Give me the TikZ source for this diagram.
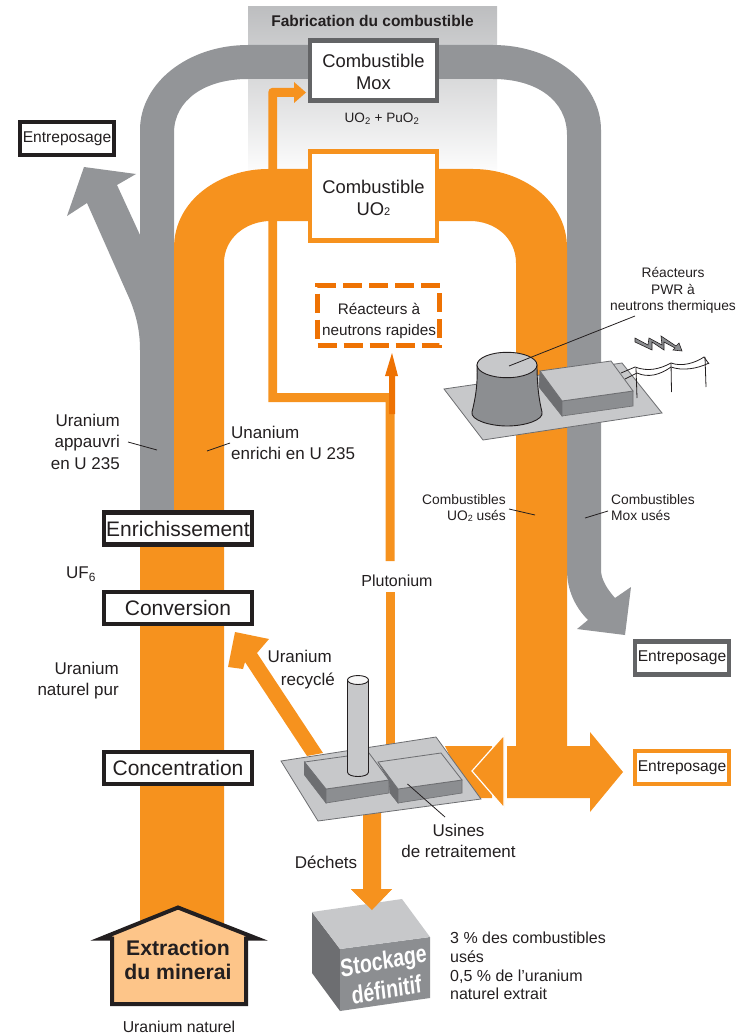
\documentclass[tikz,border=0pt]{standalone}
\usepackage{fontspec}
\setmainfont{Liberation Sans}
\definecolor{orng}{HTML}{F6921E}
\definecolor{dorng}{HTML}{EE7203}
\definecolor{band}{HTML}{939598}
\definecolor{dgray}{HTML}{636466}
\definecolor{lgray}{HTML}{C7C8CA}
\definecolor{mgray}{HTML}{8C8E91}
\definecolor{sgray}{HTML}{6D6E71}
\definecolor{ink}{HTML}{231F20}
\definecolor{house}{HTML}{FDC589}
\newcommand{\fs}[1]{\fontsize{#1}{#1}\selectfont}
\tikzset{
  box/.style={draw=#1,line width=4.5pt,fill=white,text=ink,align=center,inner sep=0pt,anchor=center},
  stepbox/.style={box=ink,minimum width=148pt,minimum height=32pt,font=\fs{21}},
  storebox/.style={box=#1,minimum width=94pt,minimum height=33pt,font=\fs{15.6}},
  lab/.style={text=ink,align=center,inner sep=0pt,font=\fs{17}},
  leader/.style={draw=ink,line width=0.8pt},
  wire/.style={draw=ink,line width=0.8pt},
}
\begin{document}
\begin{tikzpicture}[x=1pt,y=-1pt]
\useasboundingbox (0,0) rectangle (751,1035);
% fabrication panel
\shade[top color=lgray!95!black,bottom color=white] (248,7) rectangle (497,178);
% grey loop
\fill[band] (140,520) -- (140,130) .. controls (140,83) and (188,45) .. (248,45) -- (493,45)
  .. controls (553,45) and (601,83) .. (601,130) -- (601,570)
  .. controls (601,580) and (608,590) .. (615,598) -- (631,587) -- (625,635) -- (577,629) -- (588,620)
  .. controls (575,607) and (567,590) .. (567,570) -- (567,135)
  .. controls (567,100) and (536,79) .. (493,79) -- (248,79)
  .. controls (205,79) and (174,100) .. (174,133) -- (174,520) -- cycle;
% grey branch to upper-left storage
\fill[band] (140,235) -- (117,185) -- (136,174) -- (84,167) -- (67,216) -- (87,203) -- (130,300)
  .. controls (136,315) and (140,330) .. (140,350) -- cycle;
% orange loop
\fill[orng] (140,520) -- (174,520) -- (174,248) .. controls (174,200) and (220,169) .. (268,169) -- (473,169)
  .. controls (521,169) and (567,200) .. (567,248) -- (567,746) -- (590,746) -- (590,732) -- (623,772) -- (590,812) -- (590,798)
  -- (507,798) -- (507,746) -- (516,746) -- (516,263)
  .. controls (516,238) and (495,221) .. (470,221) -- (271,221)
  .. controls (246,221) and (224,238) .. (224,263) -- (224,930) -- (140,930) -- cycle;
% band to reprocessing
\fill[orng] (445,746) -- (492,746) -- (492,798) -- (470,798) -- cycle;
\fill[orng,draw=white,line width=1.2pt] (504,735) -- (472,771) -- (504,808) -- cycle;
% plutonium line and branch to Mox
\fill[orng] (385.5,745) -- (385.5,592) -- (394.5,592) -- (394.5,745) -- cycle;
\fill[orng] (268.3,402) -- (385.5,402) -- (385.5,561) -- (394.5,561) -- (394.5,393) -- (277,393) -- (277,97) -- (294,97) -- (294,103) -- (306,92.5) -- (294,82) -- (294,88) -- (272,88)
  .. controls (270,88) and (268.3,90) .. (268.3,92) -- cycle;
\fill[dorng] (389,414) -- (389,376) -- (385,376) -- (392,353) -- (398,376) -- (395,376) -- (395,414) -- cycle;
% recycled uranium arrow
\fill[orng] (307,756) -- (245,662) -- (243,669) -- (228,667) -- (235,632) -- (269,639) -- (257,653) -- (323,753) -- cycle;
% wastes arrow
\fill[orng] (363,805) -- (381,805) -- (381,889) -- (392,889) -- (372,910) -- (351,889) -- (363,889) -- cycle;
% reprocessing plant
\filldraw[fill=lgray,draw=sgray,line width=0.8pt] (281,761) -- (436,737) -- (481,799) -- (318,821) -- cycle;
\filldraw[fill=sgray,draw=sgray,line width=0.6pt] (304.5,762) -- (326,789) -- (326,803) -- (304.5,775) -- cycle;
\filldraw[fill=mgray,draw=sgray,line width=0.6pt] (326,789) -- (389,780) -- (389,793) -- (326,803) -- cycle;
\filldraw[fill=lgray,draw=sgray,line width=0.8pt] (304.5,762) -- (369,753) -- (389,780) -- (326,789) -- cycle;
\filldraw[fill=sgray,draw=sgray,line width=0.6pt] (378,762) -- (398,789) -- (398,803) -- (390,793) -- (389,780) -- cycle;
\filldraw[fill=mgray,draw=sgray,line width=0.6pt] (398,789) -- (462,780) -- (462,793) -- (398,803) -- cycle;
\filldraw[fill=lgray,draw=sgray,line width=0.8pt] (378,762) -- (441,753) -- (462,780) -- (398,789) -- cycle;
\filldraw[fill=lgray,draw=ink,line width=0.9pt] (347.5,680) -- (347.5,772)
  .. controls (347.5,778) and (368.5,778) .. (368.5,772) -- (368.5,680) -- cycle;
\filldraw[fill=white!85!lgray,draw=ink,line width=0.9pt] (358,680) ellipse [x radius=10.5pt,y radius=4.5pt];
% PWR plant
\filldraw[fill=lgray,draw=sgray,line width=0.8pt] (444,389) -- (622,363) -- (662,413) -- (483,440) -- cycle;
\filldraw[fill=mgray,draw=ink,line width=0.9pt] (477,365)
  .. controls (478,385) and (475,400) .. (472,412)
  .. controls (470,420) and (490,426) .. (507,426)
  .. controls (525,426) and (544,420) .. (542,412)
  .. controls (539,400) and (537,385) .. (537,365) -- cycle;
\filldraw[fill=lgray,draw=ink,line width=0.9pt] (507,365) ellipse [x radius=30pt,y radius=12.7pt];
\filldraw[fill=sgray,draw=sgray,line width=0.6pt] (540,371) -- (562,401) -- (562,416) -- (539,387) -- cycle;
\filldraw[fill=mgray,draw=sgray,line width=0.6pt] (562,401) -- (633,391) -- (633,406) -- (562,416) -- cycle;
\filldraw[fill=lgray,draw=sgray,line width=0.8pt] (540,371) -- (611,361) -- (633,391) -- (562,401) -- cycle;
% power line
\draw[wire] (636,368) -- (637,398) (671,363) -- (671.5,392) (705,357) -- (706,387);
\draw[wire] (621,373) -- (635,367) .. controls (648,372) and (660,369) .. (671,363) .. controls (682,367) and (695,363) .. (704,357) -- (709,364);
\draw[wire] (625,379) -- (637,373) .. controls (648,378) and (660,375) .. (671,367) .. controls (682,371) and (697,369) .. (709,363);
\filldraw[fill=mgray,draw=ink,line width=0.6pt] (635,338) -- (648,345) -- (649,338) -- (662,345) -- (661,336) -- (676,346) -- (679,343) -- (682,351) -- (673,350) -- (675,348) -- (664,342) -- (664,350) -- (652,342) -- (652,350) -- (635,342) -- cycle;
% storage cube
\fill[sgray] (312,912) -- (340,949) -- (340,1011) -- (312,973) -- cycle;
\fill[mgray] (340,949) -- (430,937) -- (430,998) -- (340,1011) -- cycle;
\fill[lgray] (312,912) -- (402,899) -- (430,937) -- (340,949) -- cycle;
\fill[orng] (363,889) -- (351,889) -- (372,910) -- (392,889) -- (381,889) -- cycle;
% house
\filldraw[fill=house,draw=ink,line width=4pt,miter limit=10] (178,907.5) -- (257,938.5) -- (246,938.5) -- (246,1004) -- (112,1004) -- (112,938.5) -- (101,938.5) -- cycle;
% boxes
\node[box=dgray,minimum width=127pt,minimum height=60pt,font=\fs{18.4}] (mox) at (373.5,70.5) {\rule{0pt}{17pt}Combustible\\[3.5pt]Mox};
\node[box=orng,minimum width=127pt,minimum height=89pt,font=\fs{18.4}] (uo) at (373.5,196) {\rule{0pt}{17pt}Combustible\\[3.5pt]UO\raisebox{-0.5pt}{\fs{11}2}};
\node[box=dorng,dashed,dash pattern=on 19pt off 7pt,line width=5.5pt,minimum width=122pt,minimum height=60pt] (fast) at (378.5,315.5) {};
\node[lab,font=\fs{15.3}] (fastlab) at (379,321) {Réacteurs à\\[5.7pt]neutrons rapides};
\node[stepbox] (enr) at (178,528.5) {Enrichissement};
\node[stepbox] (conv) at (178,608) {Conversion};
\node[stepbox] (conc) at (178,768) {Concentration};
\node[storebox=ink] (st1) at (67,138.5) {Entreposage};
\node[storebox=dgray] (st2) at (682,658) {Entreposage};
\node[storebox=orng] (st3) at (682,767.5) {Entreposage};
% texts
\node[lab,font=\fs{15.5}\bfseries] (fab) at (372.5,21) {Fabrication du combustible};
\node[lab,font=\fs{13.6}] (mixlab) at (382,118.5) {UO$_{\mathrm{2}}$ + PuO$_{\mathrm{2}}$};
\node[lab,font=\fs{13.8},align=center] (pwr) at (673,290.5) {Réacteurs\\[3pt]PWR à\\[3pt]neutrons thermiques};
\node[lab,align=right,anchor=east] (appauvri) at (120,441.5) {Uranium\\[4.5pt]appauvri\\[4.5pt]en U 235};
\node[lab,align=left,anchor=west] (enrichi) at (231,443) {Unanium\\[4.5pt]enrichi en U 235};
\node[lab,align=right,anchor=east,font=\fs{13.8}] (usedu) at (506,508) {Combustibles\\[2.2pt]UO\raisebox{-0.5pt}{\fs{9}2} usés};
\node[lab,align=left,anchor=west,font=\fs{13.8}] (usedm) at (611,508) {Combustibles\\[2.2pt]Mox usés};
\node[lab,anchor=west] (uf) at (66,574) {UF$_{\mathrm{6}}$};
\node[lab,align=right,anchor=east] (pur) at (119,680.5) {Uranium\\[4.5pt]naturel pur};
\node[lab,font=\fs{16}] (pluto) at (397,581) {Plutonium};
\node[lab,align=right,anchor=east] (recy) at (335,670) {Uranium\hspace*{3pt}\\[6pt]recyclé};
\node[lab] (usines) at (458.5,841) {Usines\\[4.5pt]de retraitement};
\node[lab] (dech) at (326,862) {Déchets};
\node[lab,align=left,anchor=west,font=\fs{16}] (note) at (450,966) {3 \% des combustibles\\[2.7pt]usés\\[2.7pt]0,5 \% de l’uranium\\[2.7pt]naturel extrait};
\node[lab,font=\fs{15.8}] (natu) at (179,1027) {Uranium naturel};
\node[lab,font=\fs{21.2}\bfseries] (extr) at (178,960) {Extraction\\[3.5pt]du minerai};
\node[lab,text=white,font=\fs{25}\bfseries,xscale=0.78,rotate=8,align=center] (stock) at (385,975) {Stockage\\[4pt]définitif};
% leaders
\coordinate (a1) at (128,442); \coordinate (a2) at (157,450);
\coordinate (b1) at (230,443); \coordinate (b2) at (207,451);
\coordinate (c1) at (509,509); \coordinate (c2) at (535,515);
\coordinate (d1) at (608,511); \coordinate (d2) at (585,518);
\coordinate (e1) at (635,316); \coordinate (e2) at (509,366);
\coordinate (f1) at (445,817); \coordinate (f2) at (407.5,784);
\draw[leader] (a1) -- (a2);
\draw[leader] (b1) -- (b2);
\draw[leader] (c1) -- (c2);
\draw[leader] (d1) -- (d2);
\draw[leader] (e1) -- (e2);
\draw[leader] (f1) -- (f2);
\end{tikzpicture}
\end{document}
